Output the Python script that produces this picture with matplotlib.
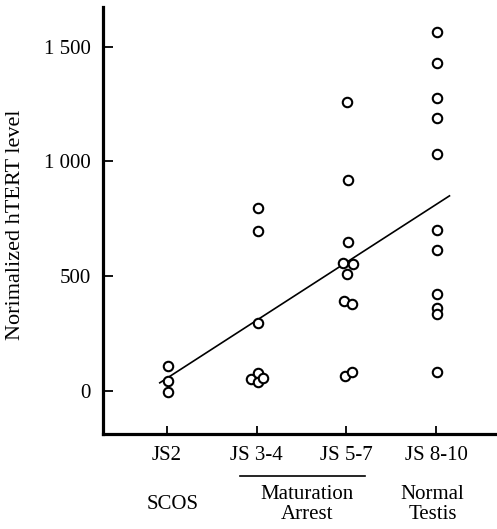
import matplotlib
matplotlib.use("Agg")
import matplotlib.pyplot as plt
import numpy as np
from matplotlib.ticker import FuncFormatter

plt.rcParams['font.family'] = ['Liberation Serif', 'DejaVu Serif']

# ---- data ----
stage_labels = ["JS2", "JS 3-4", "JS 5-7", "JS 8-10"]
stage_pos = [1, 2, 3, 4]

js2_values = [109, 43, -4]
js2_offsets = [0.01, 0.01, 0.01]

js34_values = [795, 698, 295, 51, 77, 40, 55]
js34_offsets = [0.02, 0.01, 0.01, -0.06, 0.01, 0.01, 0.07]

js57_values = [1260, 919, 650, 556, 552, 508, 392, 379, 67, 81]
js57_offsets = [0.01, 0.02, 0.02, -0.04, 0.07, 0.01, -0.03, 0.06, -0.02, 0.06]

js810_values = [1562, 1427, 1277, 1190, 1032, 701, 614, 421, 360, 334, 81]
js810_offsets = [0.01] * 11

trend_slope = 252.0
trend_intercept = -196.0
trend_x_range = [0.92, 4.15]

y_ticks = [0, 500, 1000, 1500]
group_labels = ["SCOS", "Maturation\nArrest", "Normal\nTestis"]
group_centers = [1.06, 2.56, 3.96]
underline_range = [1.81, 3.21]

# ---- figure ----
fig = plt.figure(figsize=(4.97, 5.29), dpi=100)
ax = fig.add_axes([103/497, 1 - 434/529, 1 - 103/497, 427/529])

groups = [(js2_values, js2_offsets, 1), (js34_values, js34_offsets, 2),
          (js57_values, js57_offsets, 3), (js810_values, js810_offsets, 4)]
for vals, offs, pos in groups:
    xs = np.array(offs) + pos
    ax.plot(xs, vals, linestyle='none', marker='o', ms=6.8, mfc='white',
            mec='black', mew=1.5, zorder=3)

tx = np.array(trend_x_range)
ax.plot(tx, trend_intercept + trend_slope * tx, color='black', lw=1.2, zorder=2)

ax.set_xlim(0.287, 4.68)
ax.set_ylim(-187, 1672)

ax.set_xticks(stage_pos)
ax.set_xticklabels(stage_labels)
ax.set_yticks(y_ticks)
ax.yaxis.set_major_formatter(FuncFormatter(lambda v, p: f"{int(v):,}".replace(",", " ")))

for s in ['top', 'right']:
    ax.spines[s].set_visible(False)
ax.spines['left'].set_linewidth(2.3)
ax.spines['bottom'].set_linewidth(2.3)

ax.tick_params(axis='both', direction='in', width=1.3, labelsize=15, colors='black')
ax.tick_params(axis='y', length=7, pad=9)
ax.tick_params(axis='x', length=6, pad=9)

ax.set_ylabel("Norimalized hTERT level", fontsize=16)
ax.yaxis.set_label_coords(-0.198, 0.49)

trans = ax.get_xaxis_transform()
for lab, cx in zip(group_labels, group_centers):
    ax.text(cx, -0.165, lab, transform=trans, ha='center', va='center',
            fontsize=15, linespacing=1.05, clip_on=False)
ax.plot(underline_range, [-0.0977, -0.0977], transform=trans, color='black',
        lw=1.2, clip_on=False)

fig.savefig("out.png", dpi=100)
